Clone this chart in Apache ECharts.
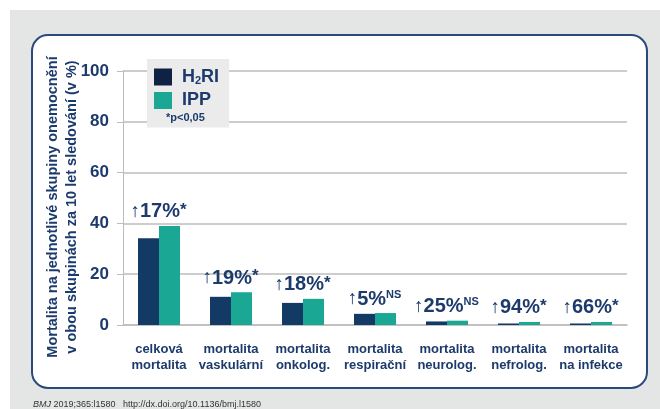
<!DOCTYPE html>
<html>
<head>
<meta charset="utf-8">
<script src="https://cdn.jsdelivr.net/npm/echarts@6/dist/echarts.min.js"></script>
<style>
  html, body { margin: 0; padding: 0; background: #fff; }
  #chart { width: 660px; height: 409px; }
</style>
</head>
<body>
<div id="chart"></div>
<script>
// kategorie a hodnoty (mortalita v %)
const categories = ['celková\nmortalita', 'mortalita\nvaskulární', 'mortalita\nonkolog.', 'mortalita\nrespirační', 'mortalita\nneurolog.', 'mortalita\nnefrolog.', 'mortalita\nna infekce'];
const h2ri = [34.2, 11.1, 8.7, 4.4, 1.4, 0.6, 0.6];
const ipp = [39.0, 12.9, 10.3, 4.7, 1.7, 1.2, 1.2];
const increase = ['17%', '19%', '18%', '5%', '25%', '94%', '66%'];
const signif = ['*', '*', '*', 'NS', 'NS', '*', '*'];
const yTicks = [0, 20, 40, 60, 80, 100];

const navy = '#1c3a6c';
const fontMain = 'Liberation Sans, Arial, sans-serif';

const chart = echarts.init(document.getElementById('chart'));

const option = {
  animation: false,
  color: ['#123a64', '#1aa793'],
  graphic: [
    { type: 'rect', z: -10, shape: { x: 10, y: 10, width: 650, height: 399 }, style: { fill: '#e4e5e5' } },
    { type: 'rect', z: -9, shape: { x: 32, y: 35, width: 615, height: 353, r: 16 },
      style: { fill: '#fff', stroke: '#2b4a7c', lineWidth: 2 } },
    { type: 'text', left: 166, top: 112, z: 10,
      style: { text: '*p<0,05', fill: navy, font: 'bold 11px ' + fontMain } },
    { type: 'text', left: 33, top: 400, z: 10,
      style: { text: '{i|BMJ} 2019;365:l1580   http://dx.doi.org/10.1136/bmj.l1580',
        fill: '#333', font: '9px ' + fontMain,
        rich: { i: { fontStyle: 'italic', fontSize: 9, fill: '#333' } } } },
  ],
  legend: {
    orient: 'vertical',
    left: 147,
    top: 59,
    padding: [9, 10, 18, 7],
    backgroundColor: '#ebebeb',
    itemWidth: 18,
    itemHeight: 17,
    itemGap: 5,
    icon: 'rect',
    formatter(name) {
      return name === 'H2RI' ? '{b|H}{s|2}{b|RI}' : '{b|' + name + '}';
    },
    textStyle: {
      padding: [0, 0, 0, 5],
      rich: {
        b: { fontSize: 18, fontWeight: 'bold', color: navy, fontFamily: fontMain },
        s: { fontSize: 11, fontWeight: 'bold', color: navy, fontFamily: fontMain, verticalAlign: 'bottom', padding: [8, 0, 0, 0] },
      },
    },
    data: [
      { name: 'H2RI', itemStyle: { color: '#0f2244' } },
      { name: 'IPP' },
    ],
  },
  grid: { left: 123, right: 33, top: 71, bottom: 84 },
  xAxis: {
    type: 'category',
    data: categories,
    axisLine: { lineStyle: { color: '#bdbdbd', width: 1.5 } },
    axisTick: { show: false },
    axisLabel: {
      interval: 0,
      margin: 16,
      color: navy,
      fontSize: 13,
      fontWeight: 'bold',
      fontFamily: fontMain,
      lineHeight: 16,
    },
  },
  yAxis: {
    type: 'value',
    min: 0,
    max: 100,
    interval: 20,
    name: 'Mortalita na jednotlivé skupiny onemocnění\nv obou skupinách za 10 let sledování (v %)',
    nameLocation: 'middle',
    nameGap: 42,
    nameRotate: 90,
    nameMoveOverlap: false,
    nameTextStyle: { color: navy, fontSize: 14.5, fontWeight: 'bold', fontFamily: fontMain, lineHeight: 19, padding: [0, 18, 0, 0] },
    axisLine: { show: true, lineStyle: { color: '#bdbdbd' } },
    axisTick: { show: true, length: 6, lineStyle: { color: '#bdbdbd' } },
    splitLine: { lineStyle: { color: '#bdbdbd', width: 1.5 } },
    axisLabel: {
      margin: 14,
      color: navy,
      fontSize: 17,
      fontWeight: 'bold',
      fontFamily: fontMain,
      formatter(v) { return yTicks.includes(v) ? String(v) : ''; },
    },
  },
  series: [
    {
      name: 'H2RI',
      type: 'bar',
      data: h2ri,
      barWidth: 21,
      barGap: '0%',
    },
    {
      name: 'IPP',
      type: 'bar',
      data: ipp,
      barWidth: 21,
      label: {
        show: true,
        position: 'top',
        offset: [-11, 1],
        formatter(p) {
          const s = signif[p.dataIndex];
          return '{a|↑}{b|' + increase[p.dataIndex] + '}' + (s === 'NS' ? '{n|NS}' : '{c|*}');
        },
        rich: {
          a: { fontSize: 19, color: navy, fontFamily: fontMain },
          b: { fontSize: 20, fontWeight: 'bold', color: navy, fontFamily: fontMain },
          c: { fontSize: 17, fontWeight: 'bold', color: navy, fontFamily: fontMain, verticalAlign: 'top' },
          n: { fontSize: 11, fontWeight: 'bold', color: navy, fontFamily: fontMain, verticalAlign: 'top' },
        },
      },
    },
  ],
};

chart.setOption(option);
window.addEventListener('resize', () => { chart.resize(); });
</script>
</body>
</html>
